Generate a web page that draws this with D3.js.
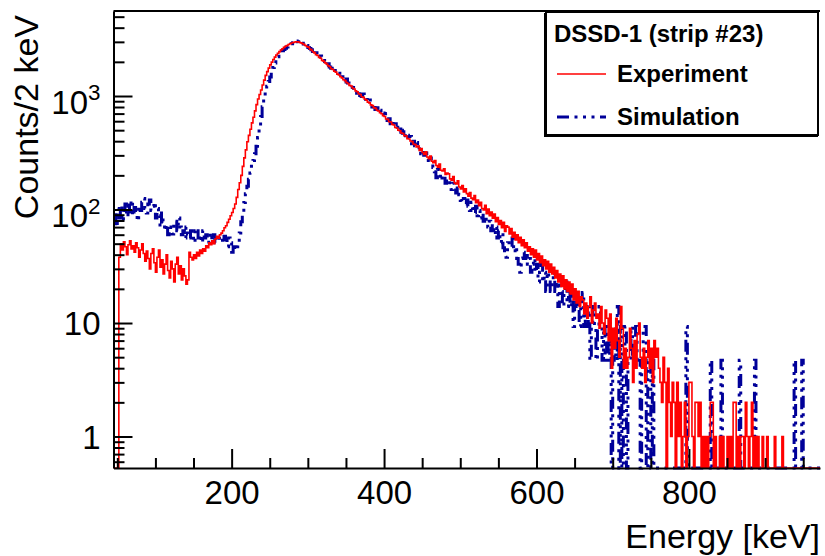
<!DOCTYPE html>
<html>
<head>
<meta charset="utf-8">
<script src="https://cdn.jsdelivr.net/npm/d3@7"></script>
<style>
  html, body { margin: 0; padding: 0; background: #fff; }
  svg { display: block; font-family: "Liberation Sans", Arial, Helvetica, sans-serif; }
</style>
</head>
<body>
<svg id="chart" width="825" height="556"></svg>
<script>
// Energy spectrum histograms, 2 keV bins starting at 44 keV
const binStart = 44;
const binWidth = 2;

// Measured counts per bin (each row = 10 bins = 20 keV)
const experiment = [
  0, 0, 0, 0, 38, 50, 44, 52, 47, 40,                       // 44
  49, 53, 45, 48, 42, 51, 46, 38, 44, 50,                   // 64
  41, 35, 43, 37, 30, 41, 45, 34, 28, 38,                   // 84
  44, 31, 36, 27, 33, 40, 29, 25, 35, 30,                   // 104
  23, 33, 38, 27, 32, 24, 30, 26, 22, 24,                   // 124
  42, 38, 36, 40, 37, 42, 39, 44, 41, 45,                   // 144
  43, 48, 46, 51, 49, 53, 50, 55, 58, 56,                   // 164
  60, 62, 65, 69, 72, 77, 82, 88, 94, 102,                  // 184
  112, 128, 150, 172, 200, 240, 285, 335, 395, 450,         // 204
  510, 580, 650, 740, 840, 940, 1030, 1130, 1250, 1380,     // 224
  1520, 1640, 1760, 1880, 1990, 2100, 2200, 2300, 2380, 2460, // 244
  2540, 2610, 2680, 2740, 2790, 2840, 2890, 2930, 2960, 2990, // 264
  3010, 3000, 2980, 2940, 2900, 2850, 2790, 2730, 2695, 2590, // 284
  2540, 2455, 2398, 2310, 2272, 2190, 2148, 2060, 2030, 1958, // 304
  1915, 1850, 1812, 1740, 1712, 1650, 1622, 1558, 1530, 1478, // 324
  1446, 1392, 1366, 1316, 1290, 1240, 1225, 1175, 1152, 1110, // 344
  1090, 1046, 1030, 985, 972, 938, 920, 884, 870, 836,      // 364
  822, 790, 778, 748, 738, 712, 698, 672, 660, 628,         // 384
  622, 594, 590, 562, 556, 528, 522, 501, 494, 472,         // 404
  468, 448, 445, 421, 418, 402, 396, 378, 373, 355,         // 424
  362, 331, 345, 318, 305, 322, 290, 281, 296, 266,         // 444
  258, 270, 244, 236, 251, 222, 219, 228, 204, 210,         // 464
  206, 186, 181, 195, 171, 168, 179, 158, 152, 163,         // 484
  143, 152, 138, 131, 141, 126, 122, 133, 115, 121,         // 504
  108, 116, 102, 99, 109, 92, 101, 88, 95, 84,              // 524
  91, 78, 85, 74, 80, 69, 77, 64, 72, 70,                   // 544
  61, 68, 57, 63, 54, 60, 51, 57, 48, 54,                   // 564
  46, 51, 43, 47, 40, 45, 38, 44, 36, 41,                   // 584
  34, 39, 32, 36, 30, 35, 28, 33, 27, 31,                   // 604
  25, 29, 23, 27, 21, 26, 20, 24, 19, 23,                   // 624
  18, 22, 16, 20, 15, 19, 14, 17, 16, 12,                   // 644
  15, 11, 14, 17, 10, 13, 15, 11, 12, 9,                    // 664
  14, 10, 8, 13, 11, 7, 12, 4, 9, 6,                        // 684
  11, 7, 5, 14, 9, 4, 6, 4, 5, 9,                           // 704
  6, 3, 7, 4, 8, 10, 5, 4, 6, 3,                            // 724
  5, 7, 4, 6, 3, 7, 5, 6, 4, 3,                             // 744
  2, 5, 3, 0, 4, 2, 1, 3, 2, 0,                             // 764
  3, 1, 2, 0, 1, 2, 0, 1, 3, 3,                             // 784
  1, 0, 2, 2, 1, 2, 0, 1, 0, 1,                             // 804
  0, 1, 2, 2, 0, 1, 0, 0, 1, 0,                             // 824
  1, 0, 0, 1, 0, 1, 0, 2, 2, 0,                             // 844
  1, 0, 1, 1, 0, 2, 1, 0, 1, 2,                             // 864
  0, 1, 0, 1, 0, 0, 1, 0, 0, 1,                             // 884
  0, 0, 0, 0, 1, 0, 0, 0, 0, 1,                             // 904
  0, 0, 0, 0, 0, 0, 0, 0, 0, 0,                             // 924
  0, 0, 0, 0, 0, 0, 0, 0, 0, 0,                             // 944
  0, 0, 0, 0                                                // 964
];

// Normalised simulated counts per bin
const simulation = [
  88, 93, 70, 102, 84, 107, 79, 98, 112, 86,                // 44
  116, 95, 121, 88, 104, 93, 79, 107, 98, 116,              // 64
  125, 102, 93, 112, 121, 98, 107, 116, 84, 102,            // 84
  88, 70, 93, 79, 65, 74, 60, 70, 65, 61,                   // 104
  74, 79, 65, 84, 70, 60, 65, 56, 70, 61,                   // 124
  56, 65, 60, 51, 65, 68, 56, 60, 51, 65,                   // 144
  56, 60, 51, 56, 62, 54, 60, 51, 56, 60,                   // 164
  54, 56, 51, 58, 54, 47, 56, 51, 42, 47,                   // 184
  44, 47, 52, 62, 78, 95, 115, 138, 160, 185,               // 204
  210, 240, 270, 310, 360, 430, 530, 660, 805, 950,         // 224
  1090, 1220, 1340, 1470, 1620, 1780, 1950, 2100, 2220, 2330, // 244
  2420, 2500, 2570, 2630, 2700, 2760, 2820, 2880, 2940, 2990, // 264
  3050, 3010, 2960, 2990, 2910, 2870, 2760, 2790, 2670, 2620, // 284
  2560, 2470, 2350, 2400, 2290, 2220, 2250, 2110, 2050, 2010, // 304
  1870, 1920, 1800, 1760, 1690, 1740, 1600, 1570, 1590, 1450, // 324
  1480, 1390, 1330, 1410, 1300, 1250, 1190, 1280, 1170, 1120, // 344
  1060, 1110, 1010, 990, 1040, 950, 930, 880, 920, 850,     // 364
  800, 840, 760, 790, 720, 750, 690, 710, 650, 700,         // 384
  610, 630, 570, 600, 540, 560, 590, 510, 530, 480,         // 404
  470, 500, 430, 450, 410, 440, 380, 400, 365, 390,         // 424
  340, 355, 310, 330, 300, 315, 270, 290, 285, 250,         // 444
  235, 215, 190, 225, 205, 180, 200, 195, 170, 185,         // 464
  180, 165, 150, 170, 160, 140, 155, 135, 120, 116,         // 484
  125, 112, 121, 107, 98, 116, 102, 93, 107, 88,            // 504
  98, 84, 93, 79, 88, 74, 70, 79, 65, 74,                   // 524
  60, 70, 56, 65, 51, 60, 46, 41, 38, 51,                   // 544
  51, 47, 56, 42, 47, 37, 33, 28, 37, 42,                   // 564
  37, 42, 33, 37, 28, 33, 37, 28, 33, 23,                   // 584
  28, 33, 23, 28, 19, 28, 23, 19, 23, 28,                   // 604
  19, 23, 14, 23, 19, 14, 19, 23, 14, 19,                   // 624
  14, 19, 9.3, 14, 19, 14, 9.3, 14, 18.6, 9.3,              // 644
  14, 9.3, 14, 4.7, 9.3, 14, 9.3, 4.7, 9.3, 14,             // 664
  9.3, 4.7, 9.3, 4.7, 9.3, 4.7, 9.3, 0, 4.7, 9.3,           // 684
  4.7, 14, 0, 9.3, 0, 4.7, 9.3, 0, 4.7, 4.7,                // 704
  9.3, 4.7, 4.7, 9.3, 4.7, 4.7, 0, 4.7, 9.3, 9.3,           // 724
  0, 4.7, 4.7, 0, 4.7, 0, 0, 0, 0, 0,                       // 744
  0, 0, 0, 0, 0, 0, 0, 0, 0, 0,                             // 764
  0, 0, 0, 0, 0, 0, 9.3, 0, 0, 0,                           // 784
  0, 0, 0, 0, 0, 0, 0, 0, 0, 0,                             // 804
  0, 0, 4.7, 0, 0, 0, 0, 0, 0, 4.7,                         // 824
  0, 0, 0, 0, 0, 0, 0, 0, 0, 0,                             // 844
  0, 4.7, 0, 0, 0, 0, 0, 0, 0, 0,                           // 864
  0, 4.7, 0, 0, 0, 0, 0, 0, 0, 0,                           // 884
  0, 0, 0, 0, 0, 0, 0, 0, 0, 0,                             // 904
  0, 0, 0, 0, 0, 0, 0, 4.7, 0, 0,                           // 924
  0, 0, 4.7, 0, 0, 0, 0, 0, 0, 0,                           // 944
  0, 0, 0, 0                                                // 964
];

const xTickValues = [200, 400, 600, 800];
const yTickValues = [1, 10, 100, 1000];
const seriesNames = ["Experiment", "Simulation"];
const legendTitle = "DSSD-1 (strip #23)";
const xTitle = "Energy [keV]";
const yTitle = "Counts/2 keV";

// ---- layout ----
const frame = { left: 113.5, right: 820, top: 11, bottom: 468 };
const svg = d3.select("#chart");

const x = d3.scaleLinear().domain([45, 972]).range([frame.left, frame.right]);
const y = d3.scaleLog().domain([0.528, 5610]).range([frame.bottom, frame.top]);

svg.append("defs").append("clipPath").attr("id", "plotClip")
  .append("rect")
  .attr("x", frame.left).attr("y", 0)
  .attr("width", frame.right - frame.left)
  .attr("height", frame.bottom + 2);

// Histogram outline as a step path; empty bins sit on the frame bottom
function stepPoints(values) {
  const pts = [[x(binStart), frame.bottom]];
  values.forEach((v, i) => {
    const lo = binStart + i * binWidth;
    const hi = lo + binWidth;
    const yy = v > 0 ? y(v) : frame.bottom;
    pts.push([x(lo), yy], [x(hi), yy]);
  });
  pts.push([x(binStart + values.length * binWidth), frame.bottom]);
  return pts;
}
const line = d3.line();

const plot = svg.append("g").attr("clip-path", "url(#plotClip)");

const simColor = "#000099";
const expColor = "#ff0000";
const simDash = "12 5.5 3 5.5 3 5.5 3 5.5";

plot.append("path")
  .attr("d", line(stepPoints(simulation)))
  .attr("fill", "none")
  .attr("stroke", simColor)
  .attr("stroke-width", 3)
  .attr("stroke-dasharray", simDash);

plot.append("path")
  .attr("d", line(stepPoints(experiment)))
  .attr("fill", "none")
  .attr("stroke", expColor)
  .attr("stroke-width", 1.6);

// ---- axes ----
const tickFont = 33;

// x axis: major ticks every 200 keV, minor every 50 keV
const xMinor = d3.range(50, 972, 50).filter(v => !xTickValues.includes(v));
svg.append("g")
  .attr("transform", `translate(0,${frame.bottom})`)
  .call(d3.axisBottom(x).tickValues(xMinor).tickSize(-10).tickSizeOuter(0).tickFormat(""))
  .call(g => g.select(".domain").remove());

const xAxis = svg.append("g")
  .attr("transform", `translate(0,${frame.bottom})`)
  .call(d3.axisBottom(x).tickValues(xTickValues).tickSize(-19).tickSizeOuter(0).tickPadding(13));
xAxis.selectAll("text").attr("font-size", tickFont).attr("font-family", "Liberation Sans, Arial, sans-serif").attr("fill", "#000");

// y axis: decades with 2..9 sub-ticks
const yMinor = [];
[0.1, 1, 10, 100, 1000].forEach(dec => {
  for (let k = 2; k <= 9; k++) {
    const v = dec * k;
    if (v >= 0.528 && v <= 5610) yMinor.push(v);
  }
});
svg.append("g")
  .attr("transform", `translate(${frame.left},0)`)
  .call(d3.axisLeft(y).tickValues(yMinor).tickSize(-11).tickSizeOuter(0).tickFormat(""))
  .call(g => g.select(".domain").remove());

const yAxis = svg.append("g")
  .attr("transform", `translate(${frame.left},0)`)
  .call(d3.axisLeft(y).tickValues(yTickValues).tickSize(-19).tickSizeOuter(0).tickPadding(13)
    .tickFormat(d => String(d)));

yAxis.selectAll("text")
  .attr("font-size", tickFont)
  .attr("font-family", "Liberation Sans, Arial, sans-serif")
  .attr("fill", "#000")
  .each(function (d) {
    const t = d3.select(this);
    const exp = Math.round(Math.log10(d));
    if (exp >= 2) {
      t.text(null).attr("dy", "0.52em");
      t.append("tspan").text("10");
      t.append("tspan").text(String(exp))
        .attr("font-size", tickFont * 0.68)
        .attr("dy", "-0.6em");
    } else {
      t.attr("dy", "0.36em");
    }
  });

svg.selectAll(".domain").attr("stroke-width", 2);
svg.selectAll(".tick line").attr("stroke-width", 2).attr("stroke", "#000");

// top border of the frame
svg.append("line")
  .attr("x1", frame.left).attr("x2", frame.right)
  .attr("y1", frame.top).attr("y2", frame.top)
  .attr("stroke", "#000").attr("stroke-width", 2);

// ---- axis titles ----
svg.append("text")
  .attr("x", frame.right).attr("y", 548)
  .attr("text-anchor", "end")
  .attr("font-size", 34)
  .text(xTitle);

svg.append("text")
  .attr("transform", `translate(38,15) rotate(-90)`)
  .attr("text-anchor", "end")
  .attr("font-size", 34)
  .text(yTitle);

// ---- legend ----
const lg = svg.append("g");
lg.append("rect")
  .attr("x", 546).attr("y", 12).attr("width", 272).attr("height", 123)
  .attr("fill", "#fff").attr("stroke", "#000").attr("stroke-width", 2);
lg.append("line").attr("x1", 545).attr("x2", 545).attr("y1", 13).attr("y2", 137)
  .attr("stroke", "#000").attr("stroke-width", 2);
lg.append("line").attr("x1", 545).attr("x2", 818).attr("y1", 136).attr("y2", 136)
  .attr("stroke", "#000").attr("stroke-width", 2);

lg.append("text").attr("x", 554).attr("y", 42)
  .attr("font-size", 24).attr("font-weight", "bold").text(legendTitle);

const legendRows = [
  { name: seriesNames[0], color: expColor, width: 1.6, dash: null, y: 74 },
  { name: seriesNames[1], color: simColor, width: 3, dash: simDash, y: 117 }
];
legendRows.forEach(r => {
  lg.append("line")
    .attr("x1", 557).attr("x2", 606).attr("y1", r.y).attr("y2", r.y)
    .attr("stroke", r.color).attr("stroke-width", r.width)
    .attr("stroke-dasharray", r.dash);
  lg.append("text").attr("x", 617).attr("y", r.y + 8)
    .attr("font-size", 24).attr("font-weight", "bold").text(r.name);
});
</script>
</body>
</html>
